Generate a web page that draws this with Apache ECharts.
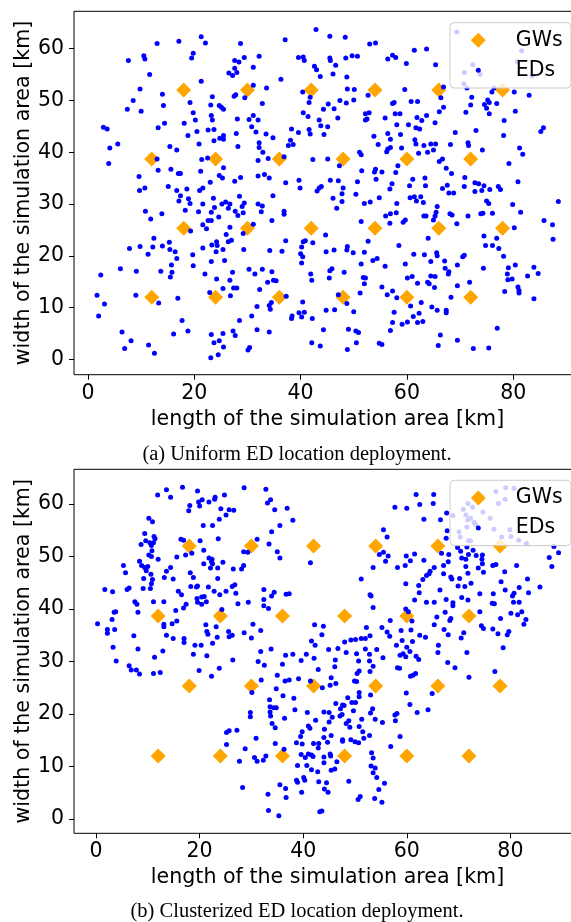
<!DOCTYPE html>
<html><head><meta charset="utf-8">
<script src="https://cdn.jsdelivr.net/npm/echarts@6/dist/echarts.min.js"></script>
<style>html,body{margin:0;padding:0;background:#fff;}#c{width:571px;height:922px;}</style>
</head><body><div id="c"></div>
<script>
// Gateway positions [km] (same grid in both panels)
const gwPositions = [[12,12],[24,12],[36,12],[48,12],[60,12],[72,12],
  [18,25.33],[30,25.33],[42,25.33],[54,25.33],[66,25.33],[78,25.33],
  [12,38.67],[24,38.67],[36,38.67],[48,38.67],[60,38.67],[72,38.67],
  [18,52],[30,52],[42,52],[54,52],[66,52],[78,52]];
const xTicks = [0,20,40,60,80];
const yTicks = [0,10,20,30,40,50,60];
const xTitle = 'length of the simulation area [km]';
const yTitle = 'width of the simulation area [km]';
const captionA = '(a) Uniform ED location deployment.';
const captionB = '(b) Clusterized ED location deployment.';

// (a) uniform end-device positions [km]
const edsUniform = [
[13.0,61.0],[17.1,61.4],[21.3,62.3],[22.1,61.1],[7.6,57.7],[10.5,58.6],[10.7,58.0],[19.8,59.1],[19.5,58.2],[28.7,61.0],[37.1,61.7],[42.9,63.7],[11.6,55.0],[21.3,53.7],[9.8,52.2],[14.0,51.2],[8.5,50.0],[14.2,49.0],[7.4,48.3],[10.0,47.9],[27.6,57.7],[28.4,57.4],[29.4,58.3],[32.2,58.5],[27.6,56.2],[26.5,55.3],[27.2,54.8],[28.0,55.4],[31.1,56.4],[39.6,58.3],[40.5,58.4],[40.7,57.7],[42.6,56.6],[43.0,55.9],[43.7,54.6],[36.3,54.1],[31.1,52.9],[33.6,52.4],[27.8,51.1],[27.5,50.8],[29.5,50.5],[32.8,49.4],[40.4,51.6],[41.8,50.6],[41.6,49.6],[44.3,48.3],[23.4,50.7],[19.2,49.6],[23.1,49.1],[24.7,49.0],[25.1,48.7],[25.5,48.3],[19.8,47.6],[23.2,47.1],[23.4,46.2],[20.2,46.2],[18.1,45.6],[14.4,45.6],[13.2,44.7],[2.9,44.8],[3.6,44.5],[5.6,41.6],[4.1,40.8],[3.9,37.8],[28.1,46.4],[30.3,46.3],[31.1,47.1],[32.0,46.2],[30.8,44.9],[31.6,43.9],[33.5,43.5],[34.8,42.8],[27.9,43.6],[23.7,44.4],[22.6,44.3],[20.5,44.0],[18.8,43.2],[20.9,41.6],[23.7,42.2],[24.8,42.7],[25.5,43.2],[25.5,42.5],[28.2,41.1],[32.2,41.8],[32.2,40.9],[32.9,40.0],[32.0,38.4],[33.9,38.8],[38.3,44.5],[39.6,43.8],[41.4,46.9],[40.5,47.6],[43.5,46.2],[43.8,45.1],[41.6,44.4],[41.8,43.5],[44.4,43.4],[38.1,42.3],[37.7,41.3],[38.6,41.5],[36.9,39.1],[42.3,38.6],[15.4,41.1],[16.7,40.4],[13.0,38.7],[13.2,36.5],[15.6,36.7],[17.0,35.9],[17.4,35.9],[9.6,35.3],[10.7,33.1],[9.7,32.6],[15.1,33.4],[16.7,32.6],[18.6,32.9],[21.0,32.6],[21.6,33.1],[21.2,36.3],[21.4,38.6],[22.5,38.9],[25.5,37.0],[24.7,35.5],[25.3,35.0],[23.0,34.2],[27.6,34.4],[28.7,35.1],[32.0,35.4],[33.2,35.7],[34.1,35.0],[37.2,34.1],[39.7,34.6],[39.9,33.1],[43.5,33.1],[43.9,33.4],[43.1,32.5],
[45.5,62.4],[48.4,62.2],[53.0,60.9],[54.1,61.1],[45.5,58.2],[45.6,57.7],[46.6,56.8],[48.5,58.2],[49.7,58.6],[50.7,58.5],[56.4,58.0],[57.3,58.7],[57.9,58.3],[59.9,57.1],[61.4,59.7],[63.7,59.9],[65.4,56.9],[46.1,55.1],[48.7,54.5],[48.8,52.2],[50.1,52.1],[52.7,51.0],[59.6,52.1],[47.4,50.0],[48.6,49.5],[50.0,50.1],[45.2,49.3],[46.3,48.4],[47.0,46.6],[45.1,44.9],[52.2,47.4],[52.9,47.6],[52.5,46.4],[52.2,46.2],[55.9,46.6],[57.3,49.4],[57.6,49.6],[57.8,47.4],[58.7,47.4],[60.8,49.8],[62.0,49.8],[61.9,46.7],[62.8,46.1],[63.7,47.1],[58.1,45.3],[60.3,45.3],[61.7,44.7],[62.4,44.5],[65.3,45.7],[66.1,47.8],[66.9,48.7],[66.4,50.5],[66.9,52.6],[53.8,43.1],[56.4,43.6],[58.8,43.4],[56.9,42.5],[54.6,41.5],[56.9,40.9],[56.2,40.1],[56.4,40.6],[59.0,40.8],[61.5,42.4],[61.7,41.6],[63.2,41.3],[63.9,40.0],[62.2,39.8],[64.5,41.6],[65.4,41.6],[65.0,40.4],[68.2,41.5],[69.1,43.8],[71.5,41.8],[71.6,41.3],[73.0,44.2],[74.2,40.4],[51.1,40.0],[51.4,39.5],[45.1,38.7],[47.3,37.4],[51.5,36.4],[54.1,36.7],[53.9,36.2],[55.3,36.2],[57.9,36.1],[58.3,37.4],[66.1,38.2],[66.7,38.7],[67.4,36.9],[68.4,35.9],[70.9,35.1],[72.8,34.1],[73.5,33.9],[74.5,33.5],[75.6,32.8],[77.2,33.4],[77.6,32.8],[74.1,32.6],[72.8,32.4],[70.8,33.4],[79.2,37.8],[80.9,34.3],[81.2,40.8],[81.8,39.6],[85.2,44.0],[85.7,44.7],[78.2,43.2],[78.3,46.1],[80.4,47.9],[83.0,51.0],[80.2,51.6],[76.0,51.6],[75.2,50.1],[74.6,49.2],[75.0,48.5],[75.5,47.4],[76.9,49.4],[75.5,49.6],[71.1,47.7],[72.0,49.1],[72.2,50.6],[76.4,52.4],[45.6,34.6],[47.1,34.5],[48.0,33.1],[50.7,34.3],[54.2,34.8],[57.2,33.9],[56.8,32.9],[60.5,33.5],[61.1,34.8],[63.4,35.0],[63.5,33.5],[66.7,33.0],[67.6,33.6],
[69.4,63.2],[72.4,56.9],[70.8,55.4],[73.8,55.0],[70.7,53.2],[71.3,52.4],[81.6,59.6],[80.8,57.5],[83.6,54.7],
[17.4,31.6],[17.1,30.6],[18.9,31.0],[19.2,30.1],[23.6,31.1],[21.6,30.0],[23.8,29.3],[25.2,30.0],[25.9,30.4],[26.7,30.0],[26.4,29.2],[28.5,31.5],[29.4,30.2],[29.0,29.5],[27.7,28.6],[29.2,28.3],[32.0,30.0],[32.8,29.6],[32.6,28.5],[34.8,31.6],[36.9,28.6],[36.9,28.0],[34.6,26.8],[31.1,26.1],[29.2,24.3],[28.2,27.8],[24.6,27.5],[23.2,28.4],[20.8,28.5],[18.3,28.8],[22.6,26.8],[23.2,26.8],[21.6,26.0],[22.3,25.2],[26.7,25.5],[26.0,24.1],[19.3,24.8],[10.8,28.6],[11.8,27.1],[13.9,28.1],[12.4,23.4],[12.2,21.7],[9.8,21.8],[7.8,21.4],[11.3,20.3],[14.0,21.9],[15.3,22.6],[15.4,21.2],[16.4,20.8],[16.7,19.5],[15.7,18.2],[13.7,17.0],[15.8,16.8],[15.5,15.9],[9.1,17.0],[6.1,17.5],[2.4,16.3],[1.7,12.4],[3.1,10.7],[2.0,8.4],[9.0,12.4],[13.3,10.9],[16.9,11.8],[19.7,20.2],[19.8,18.1],[21.6,21.5],[23.3,22.1],[24.2,22.7],[24.3,22.0],[24.1,20.8],[25.4,21.2],[26.4,22.7],[27.0,23.0],[29.3,21.2],[23.2,18.9],[25.7,19.1],[22.0,16.5],[24.2,15.5],[27.2,16.8],[26.7,15.3],[25.4,13.7],[27.4,13.8],[28.0,13.8],[26.8,12.3],[22.9,12.9],[30.3,17.4],[31.4,16.5],[32.8,17.4],[34.6,16.9],[33.8,14.9],[34.9,15.3],[35.4,15.2],[32.3,13.5],[34.2,21.0],[36.5,20.9],[37.2,22.9],[40.5,22.7],[40.9,22.9],[42.3,22.5],[40.2,21.7],[40.0,20.4],[40.4,19.8],[40.2,18.6],[41.9,16.5],[42.1,15.3],[37.3,12.2],[34.5,11.0],[34.1,10.4],[34.3,9.7],[31.8,10.2],[30.8,8.4],[28.5,7.5],[40.4,11.1],[39.7,9.0],[40.7,9.1],[38.4,8.4],[38.3,7.9],[40.2,8.2],[42.2,7.9],[17.7,7.5],[16.1,4.9],[18.8,5.5],[6.4,5.3],[8.1,3.6],[6.9,2.1],[11.4,2.8],[12.5,1.2],[23.2,4.8],[25.4,5.0],[27.3,5.5],[27.7,4.6],[24.7,3.6],[23.7,3.2],[25.5,2.4],[24.5,0.9],[23.1,0.3],[30.4,2.3],[30.1,1.8],[31.8,5.7],[34.1,5.3],[42.1,3.2],[43.7,2.6],[44.3,5.7],
[46.1,31.1],[47.8,32.0],[47.8,30.5],[46.8,29.2],[50.4,31.9],[52.0,30.1],[53.1,30.4],[54.8,31.2],[58.1,30.1],[56.9,28.1],[56.0,27.7],[58.0,28.3],[59.7,26.9],[59.3,26.5],[56.8,26.3],[51.4,26.6],[60.6,31.2],[61.4,31.4],[61.8,30.6],[62.6,31.4],[63.1,30.3],[65.7,29.5],[65.5,28.4],[65.3,27.7],[65.0,26.9],[63.2,27.7],[63.6,27.7],[68.1,28.1],[68.5,27.9],[69.4,26.2],[67.9,32.1],[68.8,32.1],[71.5,27.7],[75.0,30.6],[75.4,30.1],[73.9,28.1],[74.3,28.2],[76.1,28.2],[79.9,29.9],[81.4,28.4],[88.5,30.5],[85.8,26.8],[87.4,26.0],[87.5,23.2],[80.2,25.4],[76.9,23.4],[77.3,21.4],[74.5,23.8],[74.8,22.0],[76.1,22.0],[78.2,19.9],[74.4,17.6],[79.1,17.7],[80.4,18.2],[78.9,16.5],[79.0,15.4],[79.8,15.5],[83.9,17.8],[84.7,16.6],[82.7,16.1],[80.9,14.0],[81.1,13.3],[81.1,12.8],[78.4,13.1],[83.9,11.7],[77.0,6.0],[75.4,2.2],[72.5,2.1],[69.5,3.7],[65.9,2.7],[66.3,4.7],[71.8,14.9],[69.5,14.2],[68.3,12.0],[69.5,18.2],[70.5,19.8],[70.8,20.1],[67.9,16.9],[67.8,16.5],[67.2,17.6],[67.1,19.0],[65.6,20.6],[65.7,20.0],[64.5,18.9],[63.3,20.2],[61.3,20.3],[64.0,23.4],[58.5,22.0],[59.7,18.4],[60.1,15.7],[61.0,16.0],[62.0,14.7],[63.9,14.9],[64.2,14.6],[64.5,16.1],[65.3,16.0],[65.2,13.9],[62.7,11.0],[64.7,10.1],[65.7,9.5],[67.4,9.5],[67.4,9.0],[62.3,8.9],[63.0,7.3],[62.0,7.1],[61.2,8.3],[60.1,7.2],[59.1,6.8],[57.6,9.1],[60.7,10.3],[58.1,11.9],[57.3,13.2],[56.3,12.5],[55.3,14.0],[57.3,7.1],[56.9,5.6],[55.9,18.0],[54.4,19.5],[53.6,19.1],[51.4,18.4],[52.7,22.8],[52.0,20.7],[49.9,20.6],[48.7,21.1],[48.8,21.8],[46.3,21.1],[44.8,20.8],[44.7,24.0],[48.2,16.8],[45.9,17.5],[45.5,17.1],[45.4,15.7],[51.8,15.8],[52.2,15.7],[52.0,14.6],[51.2,12.8],[47.1,12.5],[48.7,10.8],[50.0,9.2],[46.4,9.6],[44.8,9.5],[49.0,5.8],[50.4,5.5],[50.9,5.2],[50.5,3.2],[48.8,1.9],[54.8,3.1],[55.3,2.9]
];

// (b) clustered end-device positions [km]
const edsClustered = [
[11.9,61.7],[13.6,62.7],[14.4,61.3],[16.7,63.2],[19.6,62.5],[18.1,59.7],[17.9,58.7],[19.8,60.4],[20.0,59.6],[20.5,60.8],[21.8,60.4],[22.9,60.9],[23.0,61.3],[24.8,61.7],[24.1,59.1],[25.7,58.9],[26.6,58.8],[25.1,57.9],[23.8,57.1],[22.5,55.9],[20.7,55.9],[28.6,63.1],[32.8,62.8],[33.7,60.8],[33.1,60.2],[34.5,58.9],[36.9,59.2],[38.0,56.9],[35.5,55.9],[33.9,54.7],[31.1,53.3],[33.4,52.4],[35.0,50.9],[35.5,49.7],[41.4,48.8],[23.6,53.4],[20.1,53.0],[16.4,53.3],[16.9,53.1],[10.2,57.3],[10.9,56.6],[9.4,54.4],[11.2,53.8],[11.4,53.4],[9.6,53.0],[10.4,52.6],[8.7,52.3],[10.7,52.1],[11.1,52.6],[10.8,51.1],[10.2,50.3],[10.7,50.0],[12.0,49.5],[8.4,49.1],[8.8,48.3],[9.4,47.9],[9.7,47.3],[10.0,48.1],[5.3,48.3],[5.7,46.9],[10.6,46.6],[9.2,45.8],[10.9,45.6],[10.7,44.8],[9.1,43.9],[10.5,43.9],[6.0,43.7],[6.4,44.0],[1.7,43.7],[3.2,43.3],[11.1,41.4],[13.1,41.4],[7.5,41.4],[7.9,40.9],[8.1,39.4],[3.5,39.4],[3.8,39.5],[3.1,38.0],[0.3,37.2],[2.2,36.1],[2.2,35.4],[3.6,36.1],[7.3,34.9],[3.3,32.7],[8.1,32.4],[13.1,37.1],[13.1,36.6],[14.7,37.2],[15.6,37.7],[13.6,35.0],[14.9,34.4],[17.0,34.4],[17.0,33.6],[15.4,39.7],[16.9,40.2],[17.4,40.9],[16.5,42.7],[15.9,43.4],[13.6,47.2],[14.4,47.9],[13.2,46.0],[14.9,45.7],[15.6,49.9],[17.3,50.3],[18.5,50.6],[20.8,51.2],[18.2,46.9],[18.8,46.0],[18.3,44.3],[19.4,44.2],[19.6,44.4],[20.8,48.6],[21.8,49.7],[22.4,49.5],[22.3,49.0],[22.5,48.6],[22.1,47.8],[23.5,47.8],[24.5,48.9],[23.5,45.8],[26.5,47.6],[28.1,47.6],[28.5,48.3],[28.5,50.9],[29.3,50.8],[21.7,44.2],[22.8,43.4],[23.9,42.7],[25.1,43.4],[26.3,44.3],[26.8,44.6],[27.0,43.0],[27.4,41.0],[29.4,41.3],[32.4,43.7],[34.4,43.2],[33.9,42.5],[36.7,42.8],[37.3,42.9],[32.4,41.8],[32.4,40.6],[33.3,40.1],[19.5,42.0],[20.4,42.3],[20.9,42.4],[21.3,41.4],[20.4,40.9],[19.6,41.3],[24.3,39.9],[21.2,37.0],[23.2,36.6],[21.4,35.7],[21.6,35.2],[23.4,34.6],[25.6,35.7],[25.7,34.7],[26.3,35.0],[28.6,35.5],[30.3,37.1],[31.8,35.9],[30.0,34.5],[20.3,33.1],[22.5,33.5],[19.1,33.1],[42.2,37.0],[43.6,35.1],[43.9,36.7],[41.6,33.9],[42.3,33.1],[33.8,32.4],
[61.8,61.8],[65.2,61.8],[62.5,59.9],[65.1,60.1],[57.7,59.4],[60.0,59.2],[63.3,57.1],[67.7,58.3],[66.5,57.0],[67.8,54.9],[67.6,53.5],[55.5,55.1],[56.2,53.7],[54.7,50.4],[55.5,50.8],[56.4,50.1],[55.9,49.1],[53.5,47.9],[58.2,47.9],[59.9,50.1],[61.5,50.5],[60.7,49.2],[59.7,48.3],[63.3,49.3],[66.7,50.6],[68.1,50.4],[67.1,48.3],[68.0,49.0],[65.3,47.9],[64.3,46.7],[63.8,46.4],[64.5,47.2],[63.1,45.6],[59.8,44.8],[62.3,44.5],[62.4,43.1],[61.5,41.7],[63.8,41.3],[65.3,41.3],[66.4,43.6],[67.1,46.7],[68.5,46.1],[68.7,45.7],[70.2,45.8],[71.8,46.8],[69.9,44.4],[71.2,44.3],[72.4,44.9],[67.6,41.8],[68.9,41.2],[68.9,40.6],[70.6,42.2],[71.8,41.7],[74.1,42.9],[76.7,42.9],[76.5,41.1],[76.9,41.0],[78.2,45.2],[79.0,43.6],[80.7,43.0],[80.4,42.5],[81.7,44.1],[83.3,45.7],[83.5,43.1],[80.6,41.3],[81.7,41.3],[85.7,44.2],[88.0,48.1],[87.5,49.8],[88.4,51.9],[89.3,50.7],[81.2,48.3],[78.9,47.1],[77.2,48.5],[76.6,48.3],[74.6,48.6],[73.8,47.8],[74.8,47.0],[74.5,49.5],[74.6,50.3],[73.4,50.2],[72.8,51.2],[71.6,51.8],[71.9,50.4],[71.4,49.5],[70.6,49.7],[70.4,51.0],[69.8,51.7],[71.4,48.1],[51.2,45.7],[52.9,42.7],[53.1,42.5],[53.5,40.3],[59.8,40.0],[60.3,39.5],[61.0,37.7],[56.8,37.8],[55.2,36.5],[56.2,35.6],[52.2,36.5],[52.9,34.9],[52.0,34.4],[51.2,34.4],[50.1,34.2],[49.2,34.1],[48.0,33.7],[46.7,32.5],[44.9,32.3],[56.7,34.8],[58.9,35.9],[59.1,34.0],[58.0,33.1],[60.8,36.0],[62.5,35.0],[61.1,33.8],[63.6,34.6],[60.0,32.7],[65.3,37.0],[67.2,36.1],[68.0,35.1],[65.8,38.5],[67.4,39.4],[68.3,37.8],[68.5,38.2],[71.0,35.5],[70.5,34.5],[74.1,39.5],[74.4,36.8],[74.8,36.3],[76.6,36.2],[78.1,38.2],[80.1,39.2],[81.4,38.9],[82.2,39.5],[83.0,38.0],[82.6,37.1],[79.7,35.7],[79.4,35.1],[77.6,35.3],[78.6,32.6],[66.1,33.1],
[79.1,63.1],[80.7,63.0],[77.2,62.4],[79.0,60.9],[77.7,60.1],[71.8,60.1],[72.7,59.4],[70.9,59.0],[68.9,57.8],[74.7,58.5],[71.4,57.9],[71.8,57.0],[72.3,57.3],[73.0,56.5],[73.3,56.1],[71.6,55.6],[70.1,54.7],[70.3,53.7],[71.9,53.0],[72.3,53.0],[76.1,57.3],[76.8,55.2],[79.9,55.1],[80.1,53.8],[78.3,53.7],[81.6,53.1],[83.1,52.5],
[3.9,30.1],[6.4,29.2],[6.8,28.4],[7.8,28.4],[8.4,27.6],[11.3,30.8],[12.9,32.0],[11.1,27.7],[12.4,27.9],[18.8,31.4],[21.4,31.1],[19.9,28.3],[22.3,27.2],[23.8,28.7],[26.4,30.3],[31.8,31.9],[31.3,30.0],[32.5,29.3],[36.6,31.2],[38.0,31.4],[39.6,30.2],[40.6,31.4],[42.1,30.6],[42.9,28.5],[36.0,29.5],[35.0,27.4],[31.9,26.5],[30.1,24.1],[34.8,24.8],[36.1,23.5],[36.5,26.3],[37.3,26.5],[39.1,26.7],[41.4,26.3],[43.7,25.0],[38.2,23.0],[33.5,22.7],[33.6,21.4],[34.3,21.2],[34.8,21.2],[33.6,20.4],[33.7,19.6],[29.8,20.3],[29.8,19.5],[36.4,19.2],[38.4,20.8],[40.8,20.3],[42.4,18.8],[44.0,20.4],[34.0,18.2],[34.6,17.4],[41.0,17.7],[41.3,17.3],[39.8,16.6],[39.5,15.7],[38.7,14.5],[39.8,14.3],[42.0,14.4],[43.0,14.4],[42.9,13.5],[44.1,17.1],[44.0,15.5],[34.6,14.4],[36.3,13.3],[30.9,15.4],[27.2,16.9],[25.7,16.8],[25.2,16.5],[25.2,14.2],[28.8,13.4],[30.6,11.7],[31.1,11.0],[32.3,11.2],[32.8,12.0],[27.7,11.0],[39.6,12.3],[40.4,11.7],[41.0,12.4],[41.6,12.2],[41.9,11.9],[38.9,10.2],[40.7,10.2],[41.6,9.4],[42.8,9.0],[44.0,11.8],[44.0,10.7],[38.7,7.4],[38.9,7.0],[40.1,7.9],[40.3,7.4],[43.0,7.1],[44.1,5.7],[35.5,6.5],[36.6,5.8],[36.7,4.1],[39.7,5.1],[33.2,4.7],[28.3,6.0],[33.3,1.6],[35.3,0.6],[43.2,1.4],[43.6,1.5],
[48.3,31.7],[50.3,31.5],[52.0,32.4],[54.2,32.3],[52.8,31.4],[52.8,30.1],[50.7,30.1],[46.2,30.3],[46.1,29.0],[55.4,30.7],[53.5,29.1],[52.9,28.1],[50.8,28.2],[50.4,27.7],[50.3,26.2],[49.9,26.3],[45.4,26.9],[45.2,25.5],[46.3,25.8],[58.7,31.2],[59.3,31.5],[59.8,30.9],[60.6,31.9],[61.8,31.0],[62.3,30.4],[58.2,28.8],[58.6,28.7],[60.7,27.2],[61.2,27.4],[61.7,27.7],[66.0,31.7],[67.9,29.8],[69.3,28.8],[71.6,31.7],[77.0,28.1],[72.0,27.0],[64.9,23.9],[59.9,24.0],[60.6,21.8],[62.0,20.3],[64.1,20.8],[53.0,23.6],[50.8,24.1],[50.8,23.3],[48.6,23.1],[49.4,22.2],[50.1,22.2],[47.6,21.7],[47.9,21.6],[46.3,22.0],[47.2,21.0],[45.0,20.3],[45.6,19.4],[45.0,18.5],[47.1,19.6],[47.5,19.9],[48.8,18.7],[48.3,18.2],[49.0,17.5],[49.7,20.6],[51.3,19.0],[53.0,20.2],[53.4,21.0],[53.9,19.0],[55.3,18.4],[57.7,19.8],[58.1,20.1],[57.8,18.7],[50.8,17.6],[51.5,16.6],[52.8,15.9],[51.7,15.4],[50.7,14.5],[50.0,14.7],[49.2,15.1],[47.6,15.1],[47.6,14.8],[45.4,15.9],[44.7,14.6],[58.7,15.7],[56.9,13.8],[45.2,12.4],[45.3,12.0],[46.5,10.9],[46.1,9.5],[45.4,9.3],[53.2,12.6],[53.5,11.6],[53.1,10.1],[53.9,9.7],[53.5,8.8],[54.2,7.9],[55.7,6.8],[54.6,5.6],[53.8,3.9],[55.2,3.2],[51.0,4.3],[50.6,3.7],[48.8,7.2],[44.5,6.9],[44.8,5.1]
];

const SANS = "'DejaVu Sans', sans-serif";
const SERIF = "'Liberation Serif', serif";
const svgUrl = s => 'image://data:image/svg+xml;charset=utf-8,' + encodeURIComponent(s);
const gwIcon = svgUrl('<svg xmlns="http://www.w3.org/2000/svg" width="40" height="16" viewBox="0 0 40 16"><polygon points="7.5,0.5 15,8 7.5,15.5 0,8" fill="#ffa500"/></svg>');
const edIcon = svgUrl('<svg xmlns="http://www.w3.org/2000/svg" width="40" height="16" viewBox="0 0 40 16"><circle cx="7.5" cy="8" r="2.5" fill="#0000ff"/></svg>');

function makeX(i, min, max) {
  return { type: 'value', gridIndex: i, min: min, max: max,
    axisLine: { show: false, onZero: false },
    axisTick: { show: true, inside: false, length: 5, customValues: xTicks, lineStyle: { color: '#000', width: 1 } },
    axisLabel: { customValues: xTicks, margin: 8, fontSize: 20.5, fontFamily: SANS, color: '#000' },
    splitLine: { show: false },
    name: xTitle, nameLocation: 'middle', nameGap: 34, nameMoveOverlap: false,
    nameTextStyle: { fontSize: 20.6, fontFamily: SANS, color: '#000' } };
}
function makeY(i, min, max) {
  return { type: 'value', gridIndex: i, min: min, max: max,
    axisLine: { show: false, onZero: false },
    axisTick: { show: true, inside: false, length: 5, customValues: yTicks, lineStyle: { color: '#000', width: 1 } },
    axisLabel: { customValues: yTicks, margin: 10, fontSize: 20.5, fontFamily: SANS, color: '#000' },
    splitLine: { show: false },
    name: yTitle, nameLocation: 'middle', nameGap: 40, nameRotate: 90, nameMoveOverlap: false,
    nameTextStyle: { fontSize: 20.6, fontFamily: SANS, color: '#000' } };
}
function makeLegend(top) {
  return { left: 450, top: top, orient: 'vertical', itemWidth: 40, itemHeight: 16, itemGap: 8,
    padding: [6.6, 8.3, 6.7, 20.8], backgroundColor: 'rgba(255,255,255,0.8)',
    borderColor: '#cccccc', borderWidth: 1, borderRadius: 4, selectedMode: false,
    textStyle: { fontSize: 20.5, fontFamily: SANS, color: '#000', lineHeight: 22 },
    data: [{ name: 'GWs', icon: gwIcon }, { name: 'EDs', icon: edIcon }] };
}
function gwSeries(i) {
  return { type: 'scatter', name: 'GWs', xAxisIndex: i, yAxisIndex: i, data: gwPositions,
    symbol: 'diamond', symbolSize: 15, itemStyle: { color: '#ffa500', opacity: 1 }, z: 2, silent: true };
}
function edSeries(i, data) {
  return { type: 'scatter', name: 'EDs', xAxisIndex: i, yAxisIndex: i, data: data,
    symbol: 'circle', symbolSize: 5, itemStyle: { color: '#0000ff', opacity: 1 }, z: 3, silent: true };
}

const chart = echarts.init(document.getElementById('c'), null, { renderer: 'canvas' });
chart.setOption({
  animation: false,
  backgroundColor: '#ffffff',
  grid: [
    { left: 74, top: 11.3, width: 507, height: 363.4, show: true, borderColor: '#000', borderWidth: 1, containLabel: false, outerBoundsMode: 'none' },
    { left: 74, top: 469.3, width: 507, height: 364, show: true, borderColor: '#000', borderWidth: 1, containLabel: false, outerBoundsMode: 'none' }
  ],
  xAxis: [ makeX(0, -2.634, 92.76), makeX(1, -4.247, 93.63) ],
  yAxis: [ makeY(0, -2.954, 67.2), makeY(1, -2.724, 66.61) ],
  legend: [ makeLegend(22.7), makeLegend(480.3) ],
  series: [ gwSeries(0), edSeries(0, edsUniform), gwSeries(1), edSeries(1, edsClustered) ],
  graphic: [
    { type: 'text', x: 297, y: 454.5, silent: true,
      style: { text: captionA, fontSize: 20.5, fontFamily: SERIF, fill: '#000', align: 'center', verticalAlign: 'middle' } },
    { type: 'text', x: 297, y: 912, silent: true,
      style: { text: captionB, fontSize: 20.5, fontFamily: SERIF, fill: '#000', align: 'center', verticalAlign: 'middle' } }
  ]
});
</script>
</body></html>
